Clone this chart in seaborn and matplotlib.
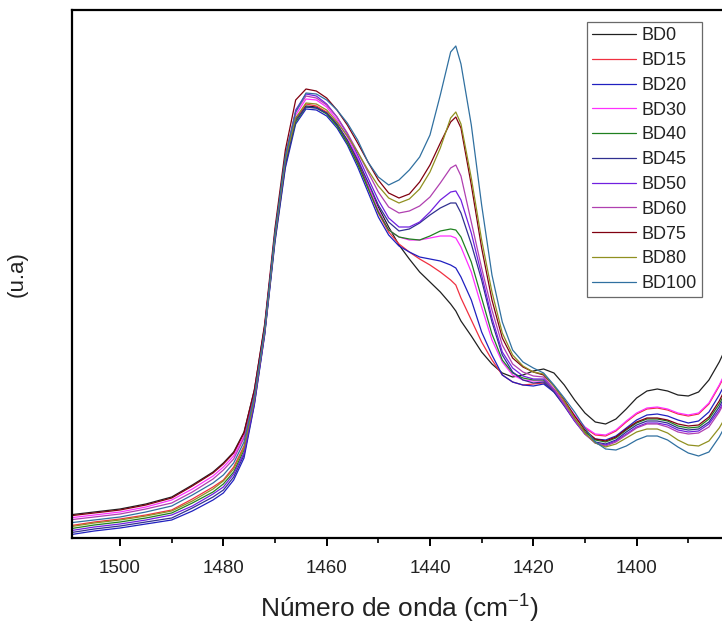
import numpy as np
import pandas as pd
import seaborn as sns
import matplotlib.pyplot as plt
from matplotlib.ticker import MultipleLocator

# Wavenumber grid (cm-1)
wavenumber = [1510, 1505, 1500, 1495, 1490, 1486, 1482, 1480, 1478, 1476, 1474, 1472, 1470, 1468,
              1466, 1464, 1462, 1460, 1458, 1456, 1454, 1452, 1450, 1448, 1446, 1444, 1442, 1440, 1438, 1436,
              1435,
              1434, 1432, 1430, 1428, 1426, 1424, 1422, 1420, 1418, 1416, 1414, 1412, 1410, 1408, 1406, 1404,
              1402, 1400, 1398, 1396, 1394, 1392, 1390, 1388, 1386, 1384, 1382]

# Intensities (arbitrary units)
bd0 = [85, 88, 91, 96, 103, 115, 128, 137, 148, 168, 210, 274, 365, 442,
       482, 494, 493, 487, 475, 459, 438, 415, 393, 373, 355, 341, 328, 318, 308, 296,
       289,
       279, 264, 248, 236, 227, 223, 225, 229, 231, 227, 215, 200, 187, 178, 176, 181,
       191, 202, 209, 211, 209, 205, 204, 208, 220, 238, 260]
bd15 = [74, 78, 81, 85, 90, 101, 113, 120, 133, 154, 202, 269, 364, 440,
        480, 496, 494, 488, 476, 459, 437, 412, 387, 368, 356, 348, 341, 335, 328, 320,
        315,
        302, 280, 258, 240, 225, 218, 215, 216, 217, 210, 198, 184, 172, 165, 164, 169,
        178, 186, 191, 192, 190, 186, 184, 186, 196, 214, 234]
bd20 = [65, 69, 72, 76, 80, 89, 100, 107, 120, 142, 195, 265, 358, 432,
        476, 491, 490, 484, 472, 455, 433, 408, 383, 365, 354, 348, 343, 341, 339, 335,
        332,
        323, 300, 268, 245, 225, 218, 215, 214, 216, 208, 195, 180, 168, 161, 160, 164,
        172, 180, 185, 186, 184, 180, 177, 179, 188, 205, 225]
bd30 = [82, 85, 88, 93, 100, 111, 124, 133, 144, 164, 208, 273, 368, 444,
        485, 501, 500, 493, 480, 463, 442, 416, 390, 370, 363, 360, 360, 362, 364, 364,
        362,
        353, 328, 293, 260, 238, 225, 220, 219, 219, 211, 199, 185, 173, 166, 165, 170,
        179, 187, 192, 193, 191, 187, 185, 187, 197, 215, 236]
bd40 = [71, 75, 78, 82, 87, 97, 108, 116, 128, 150, 200, 268, 362, 437,
        478, 493, 492, 486, 474, 457, 436, 412, 388, 370, 363, 361, 360, 364, 369, 371,
        370,
        363, 338, 302, 266, 240, 227, 222, 220, 220, 210, 196, 181, 168, 160, 158, 162,
        170, 177, 181, 181, 179, 174, 172, 173, 181, 196, 216]
bd45 = [67, 71, 74, 78, 82, 92, 103, 110, 123, 145, 196, 266, 360, 434,
        480, 493, 492, 487, 476, 460, 440, 418, 395, 378, 369, 371, 377, 385, 392, 397,
        397,
        387, 356, 320, 278, 245, 228, 220, 217, 218, 208, 194, 179, 166, 158, 156, 160,
        168, 175, 179, 179, 177, 172, 170, 171, 178, 193, 213]
bd50 = [69, 73, 76, 80, 85, 94, 106, 113, 126, 147, 198, 267, 364, 440,
        490, 506, 504, 496, 483, 466, 445, 422, 400, 382, 373, 373, 378, 388, 400, 408,
        409,
        400, 367, 325, 282, 248, 232, 224, 221, 221, 210, 195, 179, 166, 157, 155, 159,
        166, 173, 177, 177, 175, 170, 168, 169, 176, 190, 210]
bd60 = [80, 83, 86, 91, 97, 108, 121, 130, 141, 162, 206, 272, 368, 445,
        488, 504, 502, 495, 483, 467, 448, 428, 408, 393, 387, 389, 394, 403, 417, 432,
        435,
        424, 378, 332, 290, 255, 236, 228, 224, 223, 211, 196, 180, 166, 157, 154, 158,
        165, 172, 176, 176, 173, 168, 166, 167, 173, 188, 208]
bd75 = [84, 87, 90, 95, 102, 114, 127, 136, 147, 167, 210, 276, 372, 450,
        500, 511, 509, 502, 490, 475, 457, 438, 420, 407, 402, 406, 418, 435, 457, 478,
        483,
        472, 415, 352, 300, 262, 242, 233, 228, 225, 214, 200, 184, 170, 161, 159, 163,
        171, 178, 182, 182, 180, 176, 174, 175, 183, 199, 220]
bd80 = [73, 77, 80, 84, 89, 99, 111, 119, 131, 152, 201, 269, 364, 440,
        482, 497, 496, 490, 478, 464, 448, 430, 414, 402, 397, 401, 411, 428, 452, 482,
        488,
        476, 422, 360, 308, 267, 245, 234, 228, 226, 214, 199, 182, 167, 157, 153, 156,
        162, 168, 171, 171, 167, 160, 155, 154, 159, 172, 190]
bd100 = [77, 80, 83, 88, 94, 105, 117, 125, 137, 158, 204, 271, 367, 444,
         488, 507, 506, 500, 490, 477, 460, 438, 423, 415, 420, 430, 443, 465, 505, 548,
         554,
         536, 475, 395, 325, 278, 250, 238, 232, 227, 215, 202, 188, 172, 158, 151, 150,
         154, 160, 164, 164, 160, 153, 147, 144, 148, 163, 182]

sample_names = ["BD0", "BD15", "BD20", "BD30", "BD40", "BD45", "BD50", "BD60", "BD75", "BD80", "BD100"]
sample_values = [bd0, bd15, bd20, bd30, bd40, bd45, bd50, bd60, bd75, bd80, bd100]
sample_colors = ["#202020", "#F03040", "#2020C0", "#FF30FF", "#208020", "#303090",
                 "#7020E0", "#B040B0", "#800010", "#909020", "#3070A0"]

rows = []
for name, vals in zip(sample_names, sample_values):
    for w, v in zip(wavenumber, vals):
        rows.append({"wn": w, "I": v, "sample": name})
df = pd.DataFrame(rows)

sns.set_theme(style="white")
plt.rcParams['font.family'] = ['Liberation Sans', 'DejaVu Sans']
plt.rcParams['mathtext.fontset'] = 'custom'
plt.rcParams['mathtext.rm'] = 'Liberation Sans'
plt.rcParams['mathtext.it'] = 'Liberation Sans:italic'

fig = plt.figure(figsize=(7.22, 6.25), dpi=100)
ax = fig.add_axes([72 / 722, 87 / 625, (727 - 72) / 722, 528 / 625])

palette = dict(zip(sample_names, sample_colors))
sns.lineplot(data=df, x="wn", y="I", hue="sample", hue_order=sample_names,
             palette=palette, estimator=None, sort=True, lw=0.9, ax=ax)

ax.set_xlim(1509.3, 1382.5)
ax.set_ylim(62, 590)
ax.set_xticks([1500, 1480, 1460, 1440, 1420, 1400])
ax.xaxis.set_minor_locator(MultipleLocator(10))
ax.set_yticks([])
ax.tick_params(axis='x', which='major', direction='out', length=6, width=1.4,
               labelsize=13.5, pad=10, bottom=True, colors='black')
ax.tick_params(axis='x', which='minor', direction='out', length=3.5, width=1.4, bottom=True)
ax.tick_params(axis='x', labelcolor='#222222')
for side in ['top', 'left', 'bottom']:
    ax.spines[side].set_visible(True)
    ax.spines[side].set_color('black')
    ax.spines[side].set_linewidth(1.6)
ax.spines['right'].set_visible(False)

ax.set_xlabel("Número de onda (cm$^{-1}$)", fontsize=19, labelpad=11, color='#222222')
ax.set_ylabel("(u.a)", fontsize=16, labelpad=32, color='#222222')

old = ax.get_legend()
handles = old.legend_handles
labels = [t.get_text() for t in old.get_texts()]
old.remove()
for h in handles:
    h.set_linewidth(0.9)
leg = ax.legend(handles, labels, loc='upper left',
                bbox_to_anchor=(587 / 722, 1 - 22 / 625), bbox_transform=fig.transFigure,
                fontsize=13, frameon=True, fancybox=False, edgecolor='#444444',
                handlelength=2.4, handletextpad=0.3, labelspacing=0.43,
                borderpad=0.3, borderaxespad=0)
leg.get_frame().set_linewidth(0.9)
for t in leg.get_texts():
    t.set_color('#222222')

fig.savefig("out.png", dpi=100)
